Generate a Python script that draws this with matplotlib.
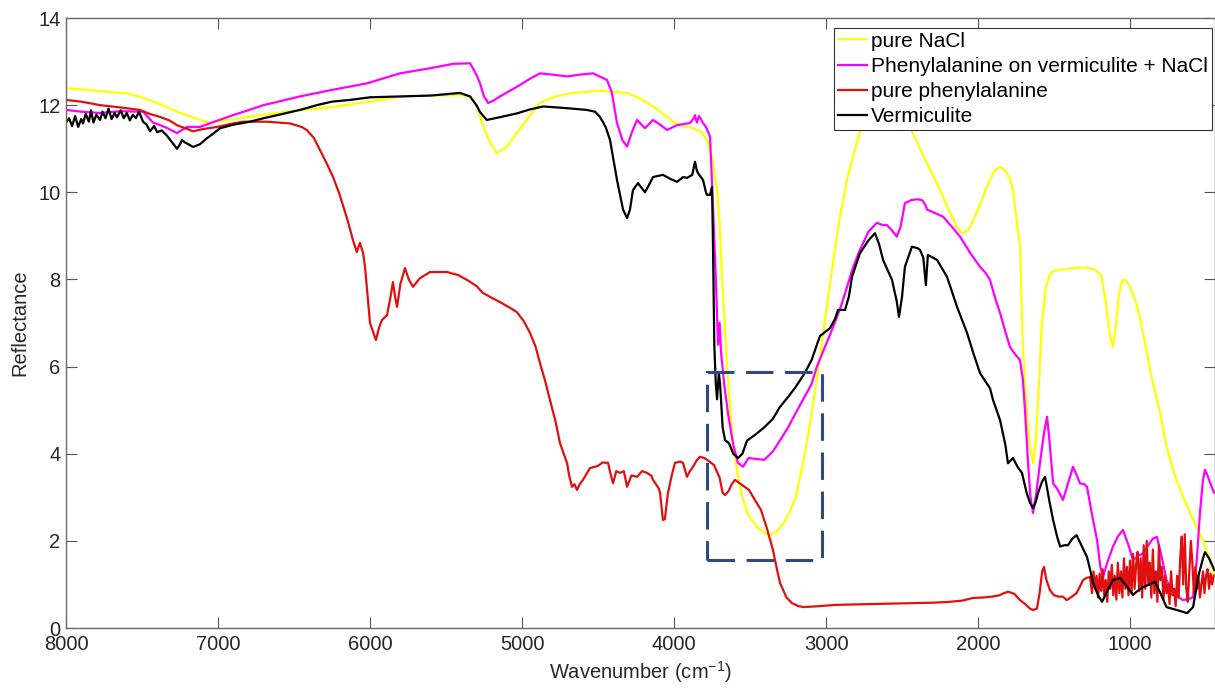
import matplotlib
matplotlib.use("Agg")
import matplotlib.pyplot as plt
from matplotlib.patches import Rectangle

plt.rcParams['font.family'] = ['Liberation Sans', 'DejaVu Sans']

# ---------------- data ----------------
wn_nacl = [8000, 7900, 7800, 7710, 7600, 7513, 7400, 7270, 7150, 7065, 6980, 6900, 6700, 6500,
           6240, 6000, 5803, 5600, 5400, 5342, 5300, 5276, 5220, 5165, 5100, 5034, 4950, 4882,
           4780, 4665, 4487, 4309, 4220, 4138, 4070, 4006, 3940, 3875, 3820, 3783, 3750, 3717,
           3700, 3684, 3665, 3651, 3630, 3612, 3580, 3550, 3513, 3450, 3400, 3369, 3330, 3280,
           3240, 3200, 3150, 3100, 3040, 2974, 2920, 2862, 2780, 2700, 2640, 2580, 2500, 2430,
           2340, 2250, 2180, 2130, 2100, 2060, 2000, 1940, 1890, 1855, 1820, 1790, 1770, 1724,
           1705, 1684, 1660, 1638, 1620, 1605, 1580, 1555, 1530, 1500, 1400, 1300, 1230, 1190,
           1160, 1140, 1125, 1112, 1095, 1075, 1055, 1040, 1020, 990, 960, 940, 900, 855, 800,
           760, 700, 650, 600, 560, 520, 480, 445]
r_nacl = [12.39, 12.36, 12.33, 12.30, 12.27, 12.19, 12.05, 11.85, 11.70, 11.60, 11.63, 11.68, 11.78,
          11.87, 11.96, 12.08, 12.20, 12.22, 12.23, 12.20, 12.00, 11.73, 11.20, 10.90, 11.05,
          11.36, 11.75, 12.05, 12.20, 12.28, 12.33, 12.28, 12.15, 11.97, 11.80, 11.62, 11.52,
          11.47, 11.38, 11.20, 10.80, 10.05, 9.30, 8.00, 6.90, 6.00, 5.00, 4.20, 3.50, 3.00,
          2.60, 2.30, 2.17, 2.13, 2.20, 2.40, 2.65, 3.00, 3.80, 4.80, 6.20, 7.90, 9.20, 10.30,
          11.36, 12.10, 12.40, 12.40, 12.00, 11.36, 10.70, 10.05, 9.50, 9.15, 9.06, 9.15, 9.60,
          10.15, 10.50, 10.58, 10.50, 10.30, 10.05, 8.75, 6.45, 5.20, 4.20, 3.78, 4.30, 5.20,
          7.00, 7.80, 8.10, 8.20, 8.25, 8.28, 8.22, 8.10, 7.50, 6.90, 6.60, 6.45, 6.90, 7.60,
          7.95, 8.00, 7.95, 7.75, 7.45, 7.20, 6.50, 5.70, 4.90, 4.16, 3.45, 3.00, 2.60, 2.30,
          2.00, 1.60, 1.20]

wn_mix = [8000, 7900, 7776, 7650, 7493, 7428, 7350, 7270, 7204, 7118, 7000, 6901, 6700, 6461,
          6250, 6020, 5803, 5600, 5450, 5362, 5342, 5300, 5276, 5250, 5223, 5190, 5145, 5034,
          4950, 4882, 4800, 4704, 4620, 4533, 4441, 4410, 4375, 4340, 4309, 4275, 4243, 4191,
          4138, 4090, 4046, 3980, 3895, 3870, 3862, 3850, 3835, 3809, 3790, 3763, 3744, 3725,
          3710, 3700, 3690, 3670, 3645, 3610, 3579, 3546, 3510, 3460, 3405, 3350, 3304, 3250,
          3200, 3150, 3095, 3060, 3007, 2954, 2900, 2862, 2820, 2777, 2720, 2665, 2630, 2600,
          2560, 2535, 2510, 2481, 2440, 2400, 2368, 2345, 2335, 2300, 2230, 2170, 2118, 2050,
          1987, 1950, 1921, 1890, 1855, 1820, 1790, 1760, 1724, 1705, 1691, 1671, 1655, 1638,
          1620, 1592, 1565, 1546, 1530, 1506, 1480, 1441, 1410, 1375, 1350, 1329, 1300, 1283,
          1250, 1217, 1195, 1178, 1150, 1112, 1080, 1046, 1010, 981, 950, 915, 880, 850, 823,
          790, 760, 720, 680, 650, 600, 585, 560, 540, 520, 507, 490, 470, 455, 445]
r_mix = [11.89, 11.85, 11.82, 11.86, 11.85, 11.60, 11.50, 11.36, 11.50, 11.50, 11.65, 11.77, 12.00,
         12.20, 12.35, 12.50, 12.73, 12.85, 12.95, 12.96, 12.96, 12.70, 12.50, 12.20, 12.05,
         12.10, 12.20, 12.42, 12.60, 12.73, 12.70, 12.66, 12.70, 12.73, 12.58, 12.30, 11.59,
         11.20, 11.05, 11.40, 11.66, 11.47, 11.66, 11.55, 11.43, 11.54, 11.59, 11.70, 11.77,
         11.60, 11.75, 11.59, 11.50, 11.28, 9.70, 8.00, 6.50, 7.00, 6.30, 5.60, 4.93, 4.20,
         3.79, 3.70, 3.90, 3.88, 3.86, 4.05, 4.30, 4.60, 4.93, 5.25, 5.60, 6.00, 6.45, 6.90,
         7.40, 7.83, 8.30, 8.68, 9.10, 9.30, 9.25, 9.25, 9.10, 8.98, 9.20, 9.75, 9.82, 9.84,
         9.82, 9.70, 9.60, 9.55, 9.44, 9.20, 8.98, 8.60, 8.29, 8.15, 7.99, 7.60, 7.23, 6.80,
         6.45, 6.30, 6.15, 5.70, 5.00, 3.80, 3.00, 2.64, 3.00, 3.80, 4.50, 4.85, 4.30, 3.32,
         3.20, 2.94, 3.30, 3.70, 3.50, 3.32, 3.30, 3.24, 2.60, 2.02, 1.40, 1.17, 1.50, 1.87,
         2.10, 2.25, 1.90, 1.56, 1.65, 1.71, 1.90, 2.05, 2.09, 1.60, 1.10, 0.85, 0.70, 0.64,
         0.68, 0.71, 1.60, 2.64, 3.40, 3.63, 3.50, 3.30, 3.17, 3.10]

wn_phe = [8000, 7900, 7776, 7650, 7513, 7450, 7382, 7320, 7270, 7200, 7164, 7100, 7007, 6900,
          6835, 6678, 6526, 6450, 6416, 6370, 6329, 6290, 6243, 6200, 6151, 6112, 6087, 6066,
          6045, 6033, 6015, 6000, 5980, 5961, 5940, 5921, 5888, 5865, 5849, 5835, 5822, 5800,
          5770, 5745, 5717, 5690, 5671, 5605, 5494, 5420, 5362, 5300, 5257, 5200, 5145, 5080,
          5034, 4990, 4947, 4910, 4882, 4850, 4816, 4780, 4750, 4704, 4690, 4671, 4655, 4638,
          4620, 4599, 4553, 4500, 4470, 4434, 4415, 4401, 4380, 4355, 4330, 4309, 4280, 4243,
          4210, 4178, 4150, 4138, 4100, 4092, 4080, 4073, 4060, 4040, 4015, 3994, 3960, 3941,
          3915, 3895, 3875, 3850, 3829, 3800, 3763, 3737, 3700, 3680, 3664, 3640, 3620, 3599,
          3560, 3507, 3470, 3428, 3390, 3349, 3320, 3302, 3260, 3224, 3180, 3145, 3050, 2941,
          2700, 2421, 2300, 2187, 2100, 2033, 1967, 1907, 1860, 1830, 1803, 1790, 1760, 1724,
          1690, 1660, 1638, 1612, 1595, 1578, 1566, 1550, 1527, 1500, 1470, 1441, 1417, 1390,
          1352, 1330, 1309, 1285, 1263, 1250, 1240, 1230, 1220, 1210, 1200, 1190, 1180, 1170,
          1160, 1150, 1140, 1130, 1120, 1110, 1100, 1090, 1080, 1070, 1060, 1050, 1040, 1030,
          1020, 1010, 1000, 990, 980, 970, 960, 950, 940, 930, 920, 910, 900, 890, 880, 870,
          860, 850, 840, 830, 820, 810, 800, 790, 780, 770, 760, 750, 740, 730, 720, 710, 700,
          690, 680, 670, 660, 650, 640, 630, 620, 610, 600, 590, 580, 570, 560, 550, 540, 530,
          520, 510, 500, 490, 480, 470, 460, 450]
r_phe = [12.12, 12.08, 12.00, 11.95, 11.89, 11.80, 11.73, 11.65, 11.54, 11.45, 11.40, 11.45, 11.50,
         11.58, 11.62, 11.62, 11.58, 11.50, 11.43, 11.25, 10.97, 10.70, 10.35, 9.95, 9.40, 8.90,
         8.63, 8.84, 8.60, 8.29, 7.60, 7.00, 6.80, 6.61, 6.90, 7.07, 7.18, 7.60, 7.94, 7.60,
         7.37, 7.90, 8.26, 8.00, 7.83, 7.95, 8.03, 8.17, 8.17, 8.10, 7.99, 7.85, 7.69, 7.58,
         7.48, 7.35, 7.25, 7.05, 6.77, 6.45, 6.08, 5.70, 5.23, 4.75, 4.24, 3.79, 3.50, 3.24,
         3.30, 3.17, 3.30, 3.40, 3.67, 3.72, 3.80, 3.79, 3.50, 3.32, 3.60, 3.56, 3.60, 3.24,
         3.50, 3.47, 3.60, 3.56, 3.50, 3.40, 3.20, 3.10, 2.70, 2.48, 2.50, 3.10, 3.50, 3.79,
         3.82, 3.79, 3.47, 3.60, 3.70, 3.85, 3.93, 3.90, 3.81, 3.74, 3.45, 3.10, 3.05, 3.15,
         3.30, 3.40, 3.30, 3.17, 2.95, 2.71, 2.30, 1.79, 1.30, 1.03, 0.70, 0.57, 0.50, 0.48,
         0.50, 0.53, 0.55, 0.57, 0.58, 0.60, 0.63, 0.69, 0.70, 0.72, 0.75, 0.80, 0.83, 0.82,
         0.78, 0.64, 0.55, 0.45, 0.41, 0.45, 0.80, 1.30, 1.40, 1.10, 0.87, 0.75, 0.72, 0.72,
         0.64, 0.70, 0.80, 0.95, 1.10, 1.15, 1.17, 0.80, 1.30, 0.90, 1.20, 0.70, 1.25, 0.85,
         1.35, 0.75, 1.10, 0.60, 1.30, 0.90, 1.45, 0.75, 1.20, 0.65, 1.50, 0.80, 1.30, 0.70,
         1.60, 0.90, 1.40, 0.75, 1.55, 0.80, 1.70, 0.90, 1.45, 1.75, 0.85, 1.60, 0.70, 1.90,
         0.90, 2.00, 1.00, 1.50, 0.70, 1.80, 0.80, 1.30, 0.60, 1.90, 1.10, 1.40, 0.65, 1.20,
         0.80, 1.00, 0.55, 1.30, 0.75, 0.90, 0.50, 1.20, 0.70, 1.60, 2.10, 1.00, 2.15, 0.90,
         0.60, 1.30, 2.00, 1.50, 0.80, 1.40, 0.90, 1.20, 0.70, 1.00, 1.30, 0.80, 1.20, 1.35,
         0.90, 1.25, 1.00, 1.20]

wn_verm = [8000, 7980, 7960, 7940, 7920, 7900, 7888, 7870, 7850, 7835, 7820, 7800, 7776, 7760,
           7740, 7720, 7700, 7680, 7665, 7640, 7620, 7600, 7580, 7560, 7540, 7520, 7493, 7470,
           7447, 7420, 7400, 7370, 7336, 7296, 7270, 7250, 7237, 7220, 7204, 7164, 7120, 7073,
           7030, 6987, 6900, 6790, 6700, 6573, 6450, 6350, 6250, 6132, 6000, 5803, 5600, 5408,
           5342, 5300, 5276, 5232, 5150, 5034, 4950, 4860, 4704, 4573, 4520, 4487, 4450, 4421,
           4375, 4335, 4309, 4290, 4270, 4237, 4191, 4160, 4138, 4073, 4020, 3980, 3940, 3915,
           3880, 3862, 3850, 3842, 3809, 3790, 3783, 3763, 3750, 3744, 3735, 3725, 3717, 3705,
           3697, 3680, 3664, 3638, 3610, 3579, 3550, 3520, 3460, 3405, 3350, 3304, 3250, 3200,
           3140, 3095, 3040, 2974, 2940, 2921, 2875, 2850, 2829, 2777, 2720, 2678, 2650, 2625,
           2566, 2535, 2520, 2500, 2481, 2435, 2400, 2382, 2360, 2343, 2335, 2330, 2270, 2204,
           2138, 2072, 2030, 1987, 1921, 1901, 1855, 1820, 1803, 1770, 1740, 1711, 1680, 1658,
           1638, 1620, 1605, 1580, 1559, 1530, 1506, 1480, 1460, 1430, 1408, 1380, 1352, 1320,
           1283, 1260, 1243, 1210, 1184, 1150, 1112, 1066, 1020, 981, 950, 915, 870, 836, 800,
           760, 700, 660, 625, 585, 550, 520, 507, 480, 445]
r_verm = [11.60, 11.70, 11.52, 11.75, 11.50, 11.68, 11.58, 11.80, 11.62, 11.88, 11.60, 11.78, 11.66,
          11.85, 11.70, 11.92, 11.68, 11.82, 11.72, 11.88, 11.70, 11.82, 11.65, 11.78, 11.70,
          11.85, 11.62, 11.55, 11.40, 11.52, 11.38, 11.42, 11.30, 11.12, 11.00, 11.10, 11.20,
          11.15, 11.12, 11.04, 11.10, 11.24, 11.35, 11.47, 11.55, 11.62, 11.70, 11.80, 11.90,
          12.00, 12.08, 12.12, 12.18, 12.20, 12.22, 12.28, 12.20, 12.00, 11.84, 11.66, 11.72,
          11.81, 11.90, 11.97, 11.93, 11.89, 11.85, 11.73, 11.50, 11.20, 10.28, 9.60, 9.41,
          9.60, 10.05, 10.21, 10.00, 10.20, 10.35, 10.40, 10.30, 10.24, 10.35, 10.33, 10.40,
          10.70, 10.50, 10.44, 10.28, 10.00, 9.94, 9.94, 10.12, 8.90, 6.50, 5.60, 5.25, 5.85,
          5.60, 4.60, 4.31, 4.24, 4.00, 3.90, 4.00, 4.30, 4.45, 4.61, 4.80, 5.07, 5.30, 5.53,
          5.85, 6.15, 6.70, 6.88, 7.10, 7.30, 7.30, 7.60, 8.06, 8.60, 8.90, 9.06, 8.80, 8.45,
          7.99, 7.50, 7.14, 7.60, 8.29, 8.75, 8.72, 8.68, 8.50, 7.87, 8.30, 8.56, 8.45, 8.06,
          7.37, 6.77, 6.30, 5.85, 5.50, 5.23, 4.77, 4.20, 3.78, 3.90, 3.70, 3.56, 3.10, 2.87,
          2.75, 2.90, 3.10, 3.35, 3.47, 2.90, 2.48, 2.10, 1.87, 1.90, 1.90, 2.05, 2.13, 1.90,
          1.63, 1.30, 1.03, 0.75, 0.60, 0.85, 1.10, 1.15, 0.95, 0.76, 0.85, 0.94, 1.00, 1.06,
          0.80, 0.48, 0.42, 0.38, 0.34, 0.48, 1.20, 1.60, 1.74, 1.60, 1.33]

series_labels = ["pure NaCl", "Phenylalanine on vermiculite + NaCl",
                 "pure phenylalanine", "Vermiculite"]
series_colors = ["#FFFF00", "#FF00FF", "#E01010", "#000000"]

# highlighted region (dashed box): wavenumber range and reflectance range
box_wn = [3783, 3026]
box_r = [1.56, 5.88]

x_ticks = [8000, 7000, 6000, 5000, 4000, 3000, 2000, 1000]
y_ticks = [0, 2, 4, 6, 8, 10, 12, 14]

# ---------------- plotting ----------------
W, H = 1215, 697
fig = plt.figure(figsize=(W / 100, H / 100), dpi=100)
ax = fig.add_axes([66 / W, (H - 628) / H, (W - 66) / W, (628 - 18) / H])

series = [(wn_nacl, r_nacl), (wn_mix, r_mix), (wn_phe, r_phe), (wn_verm, r_verm)]
for (x, y), lab, col in zip(series, series_labels, series_colors):
    ax.plot(x, y, color=col, lw=1.6, label=lab)

rect = Rectangle((box_wn[0], box_r[0]), box_wn[1] - box_wn[0], box_r[1] - box_r[0],
                 fill=False, edgecolor="#2E4A80", lw=2.2, linestyle=(0, (9, 3.8)), zorder=5)
ax.add_patch(rect)

ax.set_xlim(8000, 441)
ax.set_ylim(0, 14)
ax.set_xticks(x_ticks)
ax.set_yticks(y_ticks)
ax.tick_params(direction="in", length=8, width=0.8, top=True, right=True,
               labelsize=14.5, labelcolor="#262626", color="#555555")
ax.tick_params(axis="x", pad=5)
ax.tick_params(axis="y", pad=4)
for s in ax.spines.values():
    s.set_color("#6a6a6a")
    s.set_linewidth(1.0)

ax.set_xlabel(r"Wavenumber (cm$^{\mathregular{-1}}$)", fontsize=14.5, color="#262626", labelpad=4)
ax.set_ylabel("Reflectance", fontsize=14.5, color="#262626", labelpad=6)

leg = ax.legend(loc="upper right", bbox_to_anchor=(1212 / W, 1 - 28 / H),
                bbox_transform=fig.transFigure, borderaxespad=0, fontsize=15,
                frameon=True, fancybox=False, framealpha=1, edgecolor="#333333",
                handlelength=1.4, handletextpad=0.2, borderpad=0.18, labelspacing=0.3)
leg.get_frame().set_linewidth(0.8)

fig.savefig("out.png", dpi=100)
